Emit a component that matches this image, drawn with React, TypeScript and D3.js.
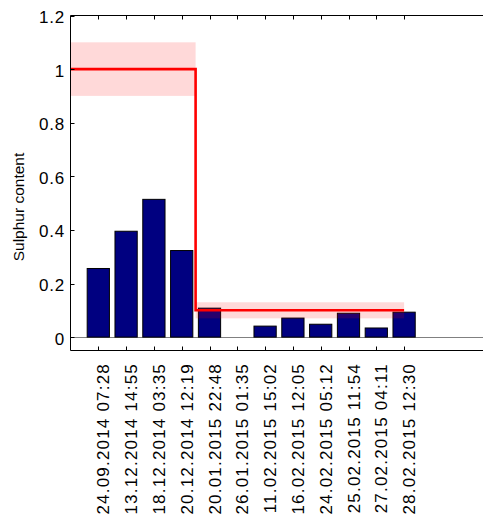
import React from "react";
import * as d3 from "d3";

const categories = [
  "24.09.2014 07:28",
  "13.12.2014 14:55",
  "18.12.2014 03:35",
  "20.12.2014 12:19",
  "20.01.2015 22:48",
  "26.01.2015 01:35",
  "11.02.2015 15:02",
  "16.02.2015 12:05",
  "24.02.2015 05:12",
  "25.02.2015 11:54",
  "27.02.2015 04:11",
  "28.02.2015 12:30",
];
const sulphur: (number | null)[] = [0.256, 0.395, 0.514, 0.323, 0.108, null, 0.041, 0.071, 0.048, 0.089, 0.034, 0.093];
const yTicks = [0, 0.2, 0.4, 0.6, 0.8, 1, 1.2];
const yTickLabels = ["0", "0.2", "0.4", "0.6", "0.8", "1", "1.2"];
// limit segments (in category-index units)
const limitStart = [0, 4.5];
const limitEnd = [4.5, 12];
const limitValue = [1, 0.1];
const limitTol = [0.1, 0.03];

const W = 483;
const H = 516;
const FONT = "'Liberation Sans', Arial, Helvetica, sans-serif";

export default function App() {
  const x = d3.scaleLinear().domain([0, 15]).range([70.5, 487.5]);
  const y = d3.scaleLinear().domain([-0.05, 1.2]).range([350.5, 15.5]);
  const barW = x(0.8) - x(0);
  const tickLen = 4;

  const linePts: [number, number][] = [];
  limitStart.forEach((s, i) => {
    linePts.push([s, limitValue[i]]);
    linePts.push([limitEnd[i], limitValue[i]]);
  });
  const line = d3
    .line<[number, number]>()
    .x((d) => x(d[0]))
    .y((d) => y(d[1]));

  const xL = x(0), xR = x(15), yT = y(1.2), yB = y(-0.05);

  return (
    <svg
      width={W}
      height={H}
      style={{ position: "absolute", left: 0, top: 0, background: "#fff" }}
      fontFamily={FONT}
    >
      <rect x={0} y={0} width={W} height={H} fill="#fff" />
      {/* baseline */}
      <line x1={xL} x2={xR} y1={Math.round(y(0)) + 0.5} y2={Math.round(y(0)) + 0.5} stroke="#808080" strokeWidth={1.2} />
      {/* bars */}
      {sulphur.map((v, i) =>
        v == null ? null : (
          <rect
            key={i}
            x={x(i + 1) - barW / 2}
            y={y(v)}
            width={barW}
            height={y(0) - y(v)}
            fill="#000080"
            stroke="#000"
            strokeWidth={1}
          />
        )
      )}
      {/* tolerance bands */}
      {limitStart.map((s, i) => (
        <rect
          key={i}
          x={x(s)}
          y={y(limitValue[i] + limitTol[i])}
          width={x(limitEnd[i]) - x(s)}
          height={y(limitValue[i] - limitTol[i]) - y(limitValue[i] + limitTol[i])}
          fill="#ff0000"
          fillOpacity={0.15}
        />
      ))}
      <path d={line(linePts) || ""} fill="none" stroke="#ff0000" strokeWidth={2.6} />
      {/* axes box */}
      <line x1={xL} x2={xR} y1={yT} y2={yT} stroke="#000" />
      <line x1={xL} x2={xR} y1={yB} y2={yB} stroke="#000" />
      <line x1={xL} x2={xL} y1={yT} y2={yB} stroke="#000" />
      <line x1={xR} x2={xR} y1={yT} y2={yB} stroke="#000" />
      {/* y ticks */}
      {yTicks.map((t, i) => (
        <g key={i}>
          <line x1={xL} x2={xL + tickLen} y1={Math.round(y(t)) + 0.5} y2={Math.round(y(t)) + 0.5} stroke="#000" />
          <line x1={xR} x2={xR - tickLen} y1={Math.round(y(t)) + 0.5} y2={Math.round(y(t)) + 0.5} stroke="#000" />
          <text x={65} y={y(t) + 7.5} textAnchor="end" fontSize={17} letterSpacing={0.8} fill="#000">
            {yTickLabels[i]}
          </text>
        </g>
      ))}
      {/* x ticks */}
      {categories.map((c, i) => {
        const cx = Math.round(x(i + 1)) + 0.5;
        return (
          <g key={i}>
            <line x1={cx} x2={cx} y1={yB} y2={yB - tickLen} stroke="#000" />
            <line x1={cx} x2={cx} y1={yT} y2={yT + tickLen} stroke="#000" />
            <text
              transform={`translate(${x(i + 1) + 11},363) rotate(-90)`}
              textAnchor="end"
              fontSize={17}
              letterSpacing={1.2}
              fill="#000"
            >
              {c}
            </text>
          </g>
        );
      })}
      <text transform="translate(24,207) rotate(-90)" textAnchor="middle" fontSize={15.5} fill="#000">
        Sulphur content
      </text>
    </svg>
  );
}
